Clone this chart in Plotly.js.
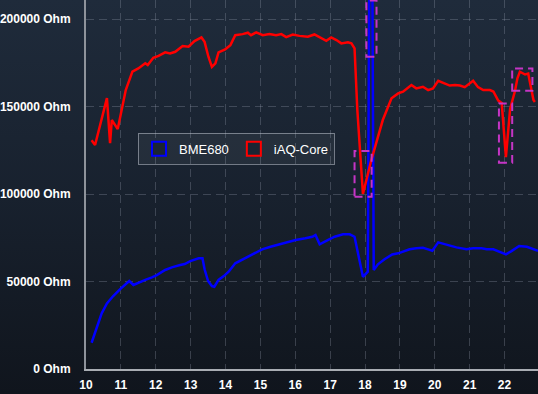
<!DOCTYPE html>
<html>
<head>
<meta charset="utf-8">
<script src="https://cdn.plot.ly/plotly-3.0.1.min.js"></script>
<style>
html,body{margin:0;padding:0;width:538px;height:394px;overflow:hidden;}
body{background:linear-gradient(to bottom,#1f2b3b 0%,#18212e 50%,#10151d 100%);}
#chart{width:538px;height:394px;}
</style>
</head>
<body>
<div id="chart"></div>
<script>
// Time of day (hours)
const iaqHours = [10.16,10.26,10.60,10.69,10.74,10.91,11.14,11.33,11.50,11.70,11.77,11.93,12.08,12.27,12.41,12.56,12.77,12.94,13.11,13.31,13.40,13.51,13.61,13.71,13.80,13.99,14.14,14.28,14.49,14.64,14.73,14.88,15.07,15.26,15.45,15.60,15.74,15.93,16.12,16.36,16.55,16.70,16.89,17.03,17.18,17.32,17.51,17.61,17.70,17.78,17.94,18.18,18.51,18.76,18.95,19.09,19.33,19.47,19.66,19.81,19.95,20.10,20.24,20.43,20.58,20.72,20.86,21.10,21.24,21.39,21.58,21.68,21.82,21.92,22.04,22.16,22.30,22.37,22.44,22.59,22.68,22.78,22.83,22.87];
const iaqOhm = [130800,128000,154800,129100,142300,137100,159400,170000,171800,174700,173700,177900,179000,181000,180400,181300,184600,184200,187400,189500,187000,178500,172700,174700,181000,182700,185100,190800,191400,192200,190800,192400,190800,191400,190800,191400,189700,191200,190400,189900,191200,189500,187600,189500,188000,186100,186700,186100,183300,148000,100000,119400,142300,154700,157500,158500,162300,160400,161300,159400,160400,164700,163600,162000,162300,162000,161100,164800,161100,159400,159400,158600,153400,152000,121100,148600,158900,166100,169900,168300,168800,159400,153700,152600];

const bmeHours = [10.16,10.31,10.45,10.60,10.78,10.98,11.12,11.24,11.36,11.50,11.70,11.89,12.03,12.27,12.46,12.70,12.83,12.99,13.23,13.34,13.40,13.50,13.61,13.68,13.80,13.95,14.09,14.28,14.47,14.66,14.86,15.05,15.29,15.53,15.81,16.01,16.29,16.49,16.58,16.70,16.93,17.13,17.37,17.56,17.70,17.85,17.94,18.08,18.17,18.25,18.37,18.56,18.78,18.95,19.09,19.28,19.47,19.66,19.81,19.93,20.10,20.34,20.62,20.91,21.10,21.34,21.49,21.68,21.82,22.04,22.20,22.42,22.64,22.83,22.96];
const bmeOhm = [15000,24200,31800,37500,41700,45700,48400,50300,48000,49300,50900,52400,53700,56600,58100,59400,60000,61700,63300,63300,57000,50300,47400,47000,50900,53100,55600,60400,62300,64200,66100,68400,69900,71300,72700,73700,74700,75600,76600,71300,73700,75600,77000,77000,75600,60400,52700,55600,400000,56600,59800,62700,65500,66100,67000,68400,69000,69300,68400,67600,72400,70900,69500,68400,69000,69000,68400,68400,67400,65500,67400,70300,69900,68400,67600];

// Highlight boxes [x0, x1, y0, y1]
const boxX0 = [17.70, 18.04, 21.84, 22.22];
const boxX1 = [18.19, 18.33, 22.22, 22.80];
const boxY0 = [98500, 178500, 117900, 159000];
const boxY1 = [124600, 210600, 151800, 171800];

const seriesNames = ['BME680', 'iAQ-Core'];
const xTickVals = [10,11,12,13,14,15,16,17,18,19,20,21,22];
const xTickText = ['10','11','12','13','14','15','16','17','18','19','20','21','22'];
const yTickVals = [0,50000,100000,150000,200000];
const yTickText = ['0 Ohm','50000 Ohm','100000 Ohm','150000 Ohm','200000 Ohm'];

const BLUE = '#0000ff', RED = '#ff0000', BOX = '#c535c5';

const traces = [
  {x: bmeHours, y: bmeOhm, type: 'scatter', mode: 'lines', line: {color: BLUE, width: 2.5}, showlegend: false, hoverinfo: 'skip'},
  {x: iaqHours, y: iaqOhm, type: 'scatter', mode: 'lines', line: {color: RED, width: 2.5}, showlegend: false, hoverinfo: 'skip'},
  {x: [null], y: [null], type: 'scatter', mode: 'markers', name: seriesNames[0],
   marker: {symbol: 'square', size: 14, color: '#1b2533', line: {color: BLUE, width: 2}}},
  {x: [null], y: [null], type: 'scatter', mode: 'markers', name: seriesNames[1],
   marker: {symbol: 'square', size: 14, color: '#1b2533', line: {color: RED, width: 2}}}
];

const shapes = boxX0.map((x0, i) => ({
  type: 'rect', xref: 'x', yref: 'y', x0: x0, x1: boxX1[i], y0: boxY0[i], y1: boxY1[i],
  line: {color: BOX, width: 2, dash: '8px,5px'}, fillcolor: 'rgba(0,0,0,0)', layer: 'above'
}));

const gridCol = 'rgba(160,170,185,0.28)';
const layout = {
  width: 538, height: 394,
  margin: {l: 86, r: 0, t: 0, b: 25, pad: 0},
  paper_bgcolor: 'rgba(0,0,0,0)',
  plot_bgcolor: 'rgba(0,0,0,0)',
  font: {family: 'Liberation Sans, Arial, sans-serif', color: '#ffffff', size: 12},
  xaxis: {
    range: [10, 22.96], tickvals: xTickVals, ticktext: xTickText,
    showgrid: true, gridcolor: gridCol, griddash: '8px,5px', gridwidth: 1,
    showline: true, linecolor: '#a9adb3', linewidth: 2,
    zeroline: false, ticks: '', ticklabelstandoff: 4,
    tickfont: {size: 12, color: '#ffffff', weight: 'bold'}
  },
  yaxis: {
    range: [0, 210900], tickvals: yTickVals, ticktext: yTickText,
    showgrid: true, gridcolor: gridCol, griddash: '8px,5px', gridwidth: 1,
    showline: true, linecolor: '#8e939b', linewidth: 2,
    zeroline: false, ticks: '', ticklabelstandoff: 11,
    tickfont: {size: 12, color: '#ffffff', weight: 'bold'}
  },
  legend: {
    orientation: 'h', x: 0.115, y: 0.64, xanchor: 'left', yanchor: 'top',
    bgcolor: 'rgba(255,255,255,0.05)', bordercolor: 'rgba(190,195,205,0.55)', borderwidth: 1,
    font: {size: 13, color: '#ffffff'}, itemclick: false
  },
  shapes: shapes,
  showlegend: true
};

Plotly.newPlot('chart', traces, layout, {displayModeBar: false, staticPlot: true});
</script>
</body>
</html>
